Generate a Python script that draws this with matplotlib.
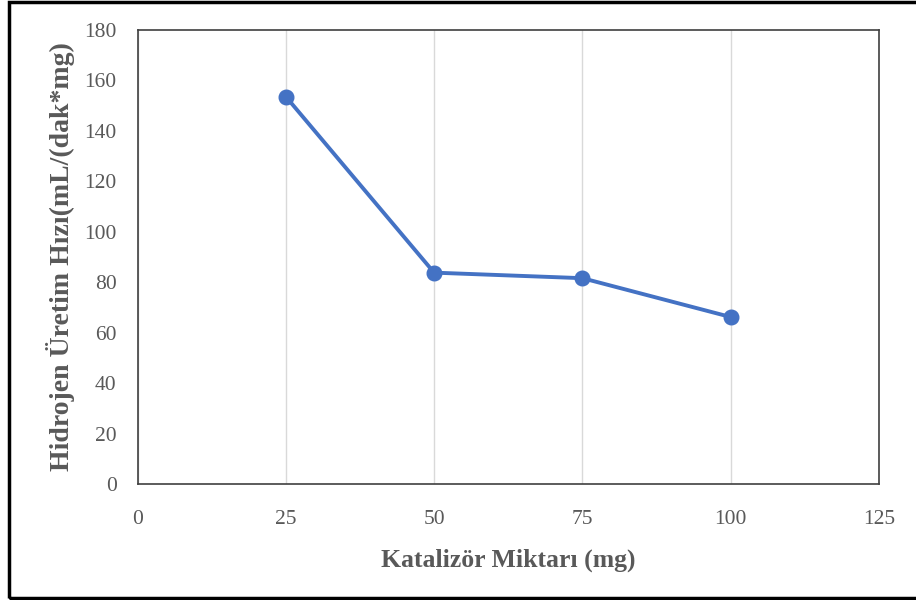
# Hydrogen production rate vs catalyst amount, Excel-style line chart
import matplotlib
matplotlib.use('Agg')
import matplotlib.pyplot as plt
from matplotlib.patches import Rectangle

# %% Data

katalizor_mg = [25, 50, 75, 100]
hiz = [153.6, 83.8, 81.6, 66.2]
x_ticks = [0, 25, 50, 75, 100, 125]
y_ticks = [0, 20, 40, 60, 80, 100, 120, 140, 160, 180]

# %% Figure

plt.rcParams['font.family'] = ['Liberation Serif', 'DejaVu Serif']

fig = plt.figure(figsize=(9.16, 6.0), dpi=100)
W, H = 916, 600
ax = fig.add_axes([137.5 / W, 1 - 484 / H, (879 - 137.5) / W, (484 - 30) / H])

ax.plot(katalizor_mg, hiz, color='#4472C4', linewidth=2.8,
        marker='o', markersize=10.5, markerfacecolor='#4472C4',
        markeredgecolor='#4472C4', zorder=3)

ax.set_xlim(0, 125)
ax.set_ylim(0, 180)
ax.set_xticks(x_ticks)
ax.set_yticks(y_ticks)
ax.tick_params(axis='both', length=0, labelsize=15.5, labelcolor='#595959')
ax.tick_params(axis='x', pad=19)
ax.tick_params(axis='y', pad=15)

#Vertical gridlines only
ax.xaxis.grid(True, color='#d9d9d9', linewidth=1)
ax.yaxis.grid(False)
ax.set_axisbelow(True)

for sp in ax.spines.values():
    sp.set_color('#404040')
    sp.set_linewidth(1.2)

ax.set_xlabel('Katalizör Miktarı (mg)', fontsize=18.5, fontweight='bold',
              color='#595959', labelpad=14)
ax.set_ylabel('Hidrojen Üretim Hızı(mL/(dak*mg)', fontsize=20, fontweight='bold',
              color='#595959', labelpad=7)

#Outer black frame (right side falls outside the image)
fig.patches.append(Rectangle((8.5 / W, 1 - 598 / H), 1.0, (596 / H),
                             transform=fig.transFigure, fill=False,
                             edgecolor='black', linewidth=2.5))

fig.savefig('out.png', dpi=100, facecolor='white')
